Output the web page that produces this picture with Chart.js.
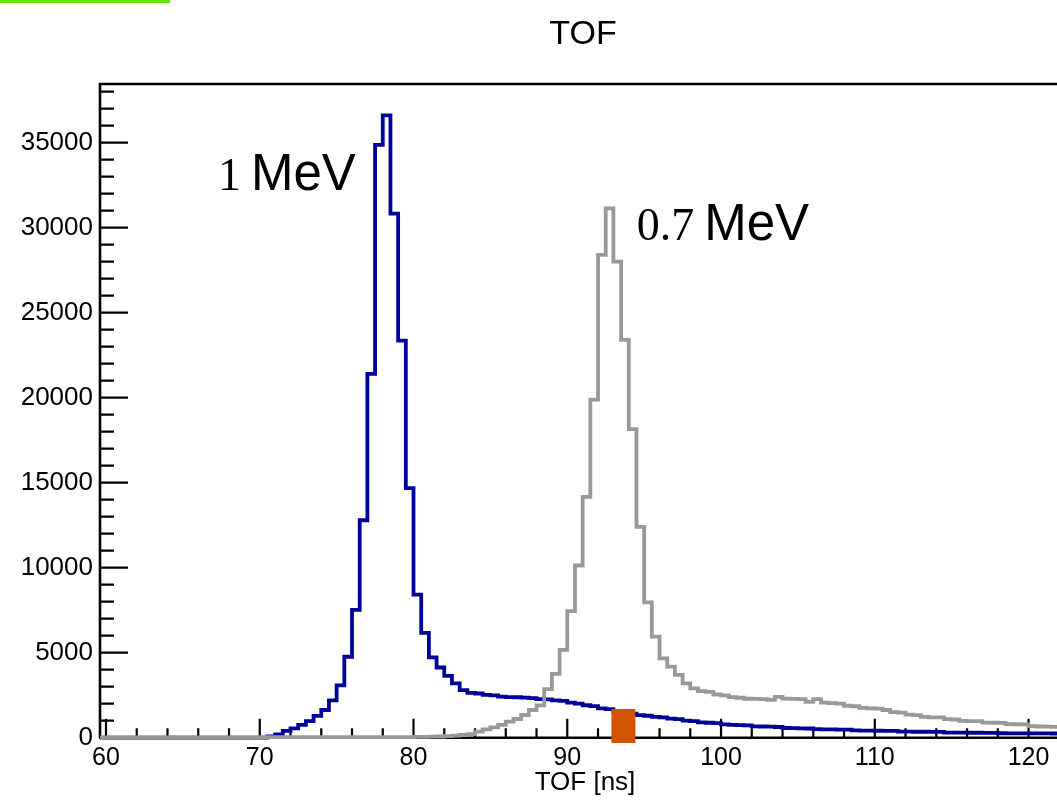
<!DOCTYPE html>
<html>
<head>
<meta charset="utf-8">
<script src="https://cdn.jsdelivr.net/npm/chart.js@4.4.1/dist/chart.umd.min.js"></script>
<style>
  html, body { margin: 0; padding: 0; background: #fff; }
  #wrap { position: relative; width: 1057px; height: 800px; }
  #greenBar { position: absolute; left: 0; top: 0; width: 170px; height: 3px; background: #6ee000; }
</style>
</head>
<body>
<div id="wrap">
  <canvas id="tofChart" width="1057" height="800"></canvas>
  <div id="greenBar"></div>
</div>
<script>
// histogram binning (ns)
const binLow = 59.5;
const binWidth = 0.5;

// 1 MeV counts, bins from 59.5 ns
const counts1MeV = [
  0, 0, 0, 0, 0, 0, 0, 0, 0, 0,
  0, 0, 0, 0, 0, 0, 0, 0, 0, 0,
  0, 10, 80, 200, 400, 550, 750, 980, 1280, 1630,
  2200, 3080, 4760, 7520, 12790, 21400, 34870, 36600, 30820, 23350,
  14680, 8420, 6170, 4720, 4130, 3640, 3200, 2800, 2640, 2600,
  2520, 2490, 2420, 2390, 2380, 2360, 2330, 2270, 2250, 2200,
  2170, 2060, 2010, 1910, 1860, 1720, 1680, 1560, 1510, 1410,
  1330, 1290, 1220, 1200, 1120, 1090, 1010, 970, 900, 880,
  860, 780, 760, 740, 720, 670, 660, 650, 630, 570,
  560, 550, 540, 500, 495, 490, 480, 470, 430, 420,
  415, 410, 405, 400, 360, 355, 350, 350, 345, 340,
  300, 298, 295, 292, 290, 288, 285, 262, 260, 258,
  255, 255, 250, 250, 248
];

// 0.7 MeV counts, bins from 59.5 ns
const counts07MeV = [
  20, 20, 20, 20, 20, 20, 20, 20, 20, 20,
  20, 20, 20, 20, 20, 20, 20, 20, 20, 20,
  20, 30, 30, 30, 30, 30, 30, 30, 30, 30,
  30, 30, 30, 30, 30, 30, 30, 30, 30, 30,
  30, 50, 50, 60, 70, 90, 120, 160, 210, 355,
  490, 610, 750, 940, 1100, 1335, 1630, 1900, 2860, 3760,
  5170, 7450, 10130, 14160, 19880, 28400, 31140, 28000, 23400, 18150,
  12400, 7960, 5950, 4670, 4180, 3690, 3200, 2900, 2740, 2690,
  2540, 2490, 2390, 2350, 2290, 2280, 2270, 2220, 2400, 2300,
  2280, 2270, 2110, 2270, 2060, 2030, 2000, 1880, 1850, 1760,
  1730, 1710, 1630, 1510, 1480, 1360, 1330, 1220, 1200, 1190,
  1090, 1070, 990, 980, 970, 890, 880, 870, 800, 790,
  780, 680, 660, 650, 640
];

const xTicks = [60, 70, 80, 90, 100, 110, 120];
const yTicks = [0, 5000, 10000, 15000, 20000, 25000, 30000, 35000];
const xMinorStep = 2;
const yMinorStep = 1000;

// orange marker on the axis, in ns / counts
const markerNs = [92.87, 94.43];
const markerCounts = [-310, 1690];

// peak labels: [serif number, sans unit, ns, counts]
const peakLabels = [
  ['1', 'MeV', 67.28, 32200],
  ['0.7', 'MeV', 94.52, 29250]
];

const SANS = '"Liberation Sans", Arial, Helvetica, sans-serif';
const SERIF = '"Liberation Serif", "Times New Roman", serif';

function toSteps(counts) {
  const pts = counts.map((c, i) => ({ x: binLow + i * binWidth, y: c }));
  pts.push({ x: binLow + counts.length * binWidth, y: counts[counts.length - 1] });
  return pts;
}

const tofDecor = {
  id: 'tofDecor',
  beforeDatasetsDraw(chart) {
    const { ctx, chartArea: a, scales: { x, y } } = chart;
    ctx.save();
    ctx.strokeStyle = '#000';
    ctx.lineWidth = 2.6;
    ctx.beginPath();
    ctx.moveTo(a.left, a.bottom);
    ctx.lineTo(a.left, a.top);
    ctx.lineTo(a.right + 10, a.top);
    ctx.moveTo(a.left - 1, a.bottom);
    ctx.lineTo(a.right + 10, a.bottom);
    ctx.stroke();

    // ticks point into the frame
    ctx.lineWidth = 2.2;
    ctx.beginPath();
    for (let v = 60; v <= x.max; v += xMinorStep) {
      const px = x.getPixelForValue(v);
      const len = xTicks.includes(v) ? 19 : 9.5;
      ctx.moveTo(px, a.bottom);
      ctx.lineTo(px, a.bottom - len);
    }
    for (let v = 0; v <= y.max; v += yMinorStep) {
      const py = y.getPixelForValue(v);
      const len = yTicks.includes(v) ? 28 : 14;
      ctx.moveTo(a.left, py);
      ctx.lineTo(a.left + len, py);
    }
    ctx.stroke();
    ctx.restore();
  },
  afterDatasetsDraw(chart) {
    const { ctx, chartArea: a, scales: { x, y } } = chart;
    ctx.save();
    // marker box
    ctx.fillStyle = '#d35400';
    const x0 = x.getPixelForValue(markerNs[0]);
    const x1 = x.getPixelForValue(markerNs[1]);
    const yT = y.getPixelForValue(markerCounts[1]);
    const yB = y.getPixelForValue(markerCounts[0]);
    ctx.fillRect(x0, yT, x1 - x0, yB - yT);

    // peak labels
    ctx.fillStyle = '#000';
    ctx.textBaseline = 'alphabetic';
    ctx.textAlign = 'left';
    peakLabels.forEach(([num, unit, ns, cnt]) => {
      const px = x.getPixelForValue(ns);
      const py = y.getPixelForValue(cnt);
      ctx.font = '46px ' + SERIF;
      ctx.fillText(num, px, py);
      const w = ctx.measureText(num).width;
      ctx.font = '51px ' + SANS;
      ctx.fillText(unit, px + w + 10, py);
    });

    // titles
    ctx.textAlign = 'center';
    ctx.font = '34px ' + SANS;
    ctx.fillText('TOF', 583, 44);
    ctx.font = '26px ' + SANS;
    ctx.fillText('TOF [ns]', 585, 790);
    ctx.restore();
  }
};

const ctx = document.getElementById('tofChart').getContext('2d');
const chart = new Chart(ctx, {
  type: 'line',
  data: {
    datasets: [
      {
        label: '0.7 MeV',
        data: toSteps(counts07MeV),
        borderColor: '#999999',
        borderWidth: 3.8,
        stepped: 'before',
        pointRadius: 0,
        fill: false,
        clip: { left: 0, top: 5, right: 0, bottom: 5 },
        order: 0
      },
      {
        label: '1 MeV',
        data: toSteps(counts1MeV),
        borderColor: '#00009a',
        borderWidth: 3.8,
        stepped: 'before',
        pointRadius: 0,
        fill: false,
        clip: { left: 0, top: 5, right: 0, bottom: 5 },
        order: 1
      }
    ]
  },
  options: {
    responsive: false,
    animation: false,
    devicePixelRatio: 1,
    layout: { padding: { top: 84, left: 0, right: 0, bottom: 0 } },
    plugins: { legend: { display: false }, tooltip: { enabled: false }, title: { display: false } },
    scales: {
      x: {
        type: 'linear',
        min: 59.61,
        max: 121.85,
        grid: { display: false },
        border: { display: false },
        afterBuildTicks: (s) => { s.ticks = xTicks.map(v => ({ value: v })); },
        afterFit: (s) => { s.height = 62.3; },
        ticks: {
          autoSkip: false,
          maxRotation: 0,
          padding: -3,
          color: '#000',
          font: { family: SANS, size: 25 },
          callback: (v) => String(v)
        }
      },
      y: {
        min: 0,
        max: 38450,
        grid: { display: false },
        border: { display: false },
        afterBuildTicks: (s) => { s.ticks = yTicks.map(v => ({ value: v })); },
        afterFit: (s) => { s.width = 100; },
        ticks: {
          autoSkip: false,
          padding: -1,
          color: '#000',
          font: { family: SANS, size: 26 },
          callback: (v) => String(v)
        }
      }
    }
  },
  plugins: [tofDecor]
});
</script>
</body>
</html>
